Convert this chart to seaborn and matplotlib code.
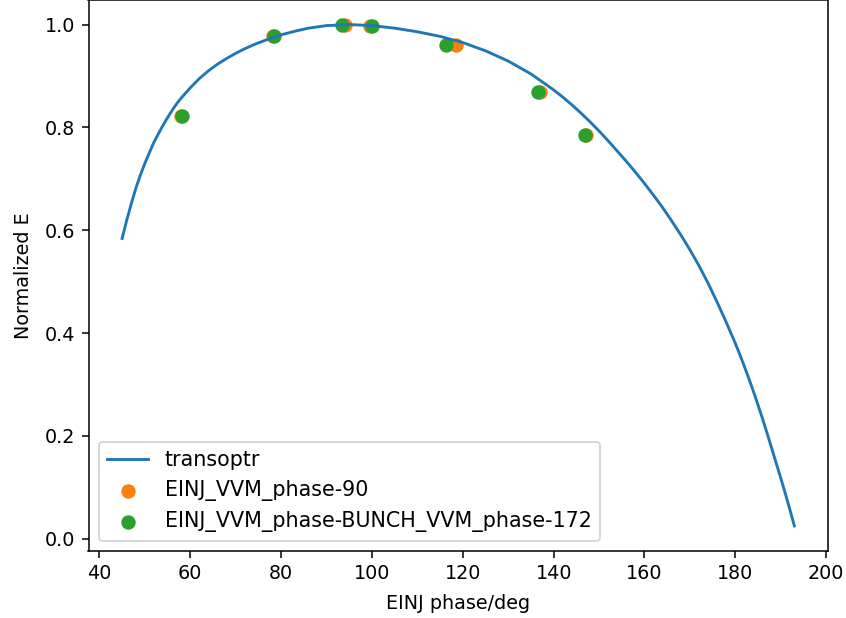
import matplotlib
matplotlib.use("Agg")
import matplotlib.pyplot as plt
import seaborn as sns
import pandas as pd

# TRANSOPTR model curve: EINJ phase (deg) vs normalized energy
model_phase = [45, 46, 47, 48, 49, 50, 51, 52, 53, 54, 55, 56, 57, 58, 59, 60,
               62, 64, 66, 68, 70, 72, 74, 77, 80, 83, 86, 90, 95, 100, 105,
               110, 115, 120, 125, 130, 135, 140, 142, 144, 146, 148, 150, 152,
               154, 156, 158, 160, 162, 164, 166, 168, 170, 172, 174, 176, 178,
               180, 181, 182, 183, 184, 185, 186, 187, 188, 189, 190, 191, 192,
               193]
model_energy = [0.584, 0.619, 0.651, 0.681, 0.707, 0.730, 0.751, 0.771, 0.788,
                0.804, 0.819, 0.833, 0.846, 0.857, 0.867, 0.877, 0.895, 0.910,
                0.923, 0.934, 0.944, 0.953, 0.961, 0.971, 0.980, 0.987, 0.993,
                0.998, 1.000, 0.998, 0.993, 0.986, 0.977, 0.965, 0.949, 0.929,
                0.904, 0.873, 0.859, 0.844, 0.828, 0.811, 0.793, 0.774, 0.754,
                0.734, 0.713, 0.691, 0.668, 0.644, 0.618, 0.591, 0.562, 0.531,
                0.497, 0.460, 0.421, 0.380, 0.358, 0.335, 0.311, 0.286, 0.260,
                0.233, 0.205, 0.176, 0.147, 0.118, 0.088, 0.057, 0.025]

# Measured scans
einj_phase = [58.0, 78.3, 94.1, 99.5, 118.6, 137.0, 147.2]
einj_energy = [0.822, 0.977, 1.000, 0.997, 0.960, 0.868, 0.786]

bunch_phase = [58.2, 78.5, 93.4, 100.1, 116.3, 136.6, 146.8]
bunch_energy = [0.822, 0.977, 1.000, 0.997, 0.960, 0.868, 0.786]

model_df = pd.DataFrame({"phase": model_phase, "energy": model_energy})
einj_df = pd.DataFrame({"phase": einj_phase, "energy": einj_energy})
bunch_df = pd.DataFrame({"phase": bunch_phase, "energy": bunch_energy})

fig = plt.figure(figsize=(846 / 138, 618 / 138), dpi=138)
ax = fig.add_axes([88.5 / 846, 67 / 618, (828 - 88.5) / 846, (618 - 67 + 0.5) / 618])

sns.lineplot(data=model_df, x="phase", y="energy", ax=ax, color="#1f77b4",
             linewidth=1.5, label="transoptr", estimator=None, sort=False)
sns.scatterplot(data=einj_df, x="phase", y="energy", ax=ax, color="#ff7f0e",
                s=36, edgecolor="face", linewidth=1.5, label="EINJ_VVM_phase-90")
sns.scatterplot(data=bunch_df, x="phase", y="energy", ax=ax, color="#2ca02c",
                s=36, edgecolor="face", linewidth=1.5,
                label="EINJ_VVM_phase-BUNCH_VVM_phase-172")

ax.set_xlabel("EINJ phase/deg", labelpad=5.5)
ax.set_ylabel("Normalized E", labelpad=6)
ax.legend(loc="lower left", fontsize=10.75)

fig.savefig("out.png", dpi=138)
